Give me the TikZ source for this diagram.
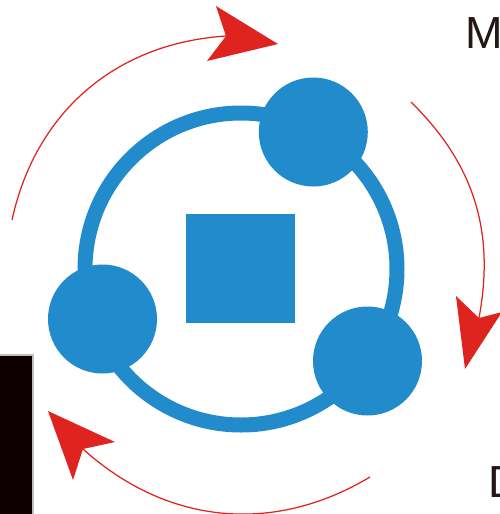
\documentclass[tikz,border=0pt]{standalone}
\usepackage{fontspec}
\setmainfont{Liberation Sans}
\usetikzlibrary{positioning, arrows.meta}
\definecolor{hubblue}{RGB}{34, 139, 203}
\definecolor{cyclered}{RGB}{223, 36, 31}
\definecolor{inkdark}{RGB}{35, 24, 21}

\begin{document}
\begin{tikzpicture}[
  x=0.2mm, y=-0.2mm,
  ring/.style={circle, draw=hubblue, line width=3mm, inner sep=0pt, minimum size=62.4mm},
  hub/.style={circle, fill=hubblue, inner sep=0pt, minimum size=21.8mm},
  core/.style={rectangle, fill=hubblue, inner sep=0pt, minimum size=21.8mm},
  flow/.style={draw=cyclered, line width=0.25mm},
  tip/.style={fill=cyclered},
  letter/.style={anchor=base west, inner sep=0pt, text=inkdark, font=\fontsize{25.6pt}{30pt}\selectfont},
]
  \clip (0,0) rectangle (500,514);

  \fill[black!25] (0,353.5) rectangle (33.5,514);
  \fill[black!95!red] (0,355.5) rectangle (32,514);

  \node[ring] (loop)  at (241,269) {};
  \node[hub]  (upper) at (313.3,132) {};
  \node[hub]  (left)  at (102.5,319) {};
  \node[hub]  (right) at (367.5,361) {};
  \node[core] (centre) at (240.5,268.5) {};

  % red arcs, ends at the notch of each head
  \coordinate (topfrom)   at (12,220);
  \coordinate (topto)     at (226,36);
  \coordinate (rightfrom) at (411,102);
  \coordinate (rightto)   at (479,318);
  \coordinate (lowfrom)   at (370,477);
  \coordinate (lowto)     at (83,449);

  \draw[flow] (topfrom)   to[bend left=37]   (topto);
  \draw[flow] (rightfrom) to[bend left=28]   (rightto);
  \draw[flow] (lowfrom)   to[bend left=36.5] (lowto);

  \fill[tip] (278,44) -- (216,6) -- (226,36) -- (207,61) -- cycle;
  \fill[tip] (465,369) -- (456,296) -- (479,318) -- (502,312) -- cycle;
  \fill[tip] (48,411) -- (115,442) -- (83,449) -- (73,480) -- cycle;

  \node[letter] (m) at (465,48) {M};
  \node[letter] (d) at (488,497) {D};
\end{tikzpicture}
\end{document}
